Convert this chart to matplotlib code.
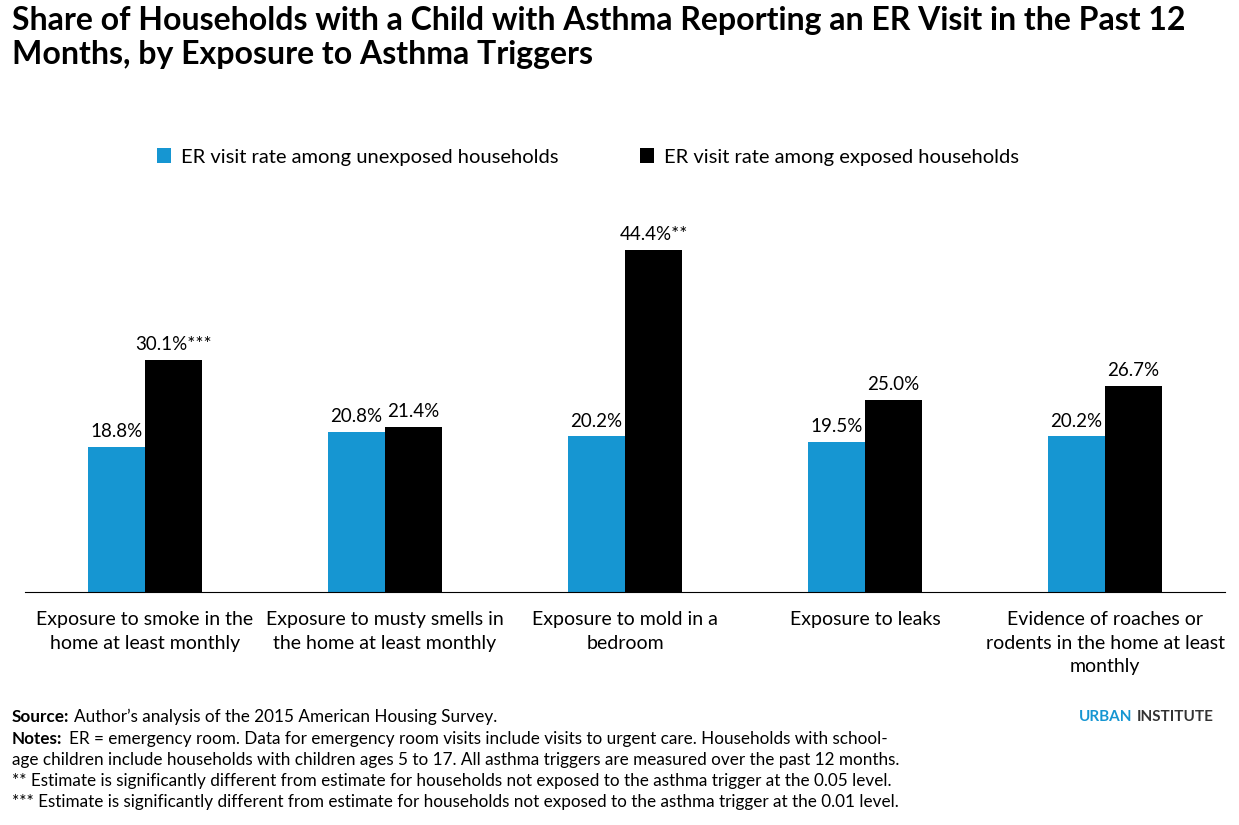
import matplotlib
matplotlib.use("Agg")
import matplotlib.pyplot as plt
import numpy as np

categories = ["Exposure to smoke in the\nhome at least monthly",
              "Exposure to musty smells in\nthe home at least monthly",
              "Exposure to mold in a\nbedroom",
              "Exposure to leaks",
              "Evidence of roaches or\nrodents in the home at least\nmonthly"]
unexposed = [18.8, 20.8, 20.2, 19.5, 20.2]
exposed = [30.1, 21.4, 44.4, 25.0, 26.7]
exposed_marks = ["***", "", "**", "", ""]
series_names = ["ER visit rate among unexposed households", "ER visit rate among exposed households"]

plt.rcParams['font.family'] = ['Lato', 'DejaVu Sans']
fig = plt.figure(figsize=(12.39, 8.25), dpi=100)
ax = fig.add_axes([25/1239, (825-592)/825, 1200/1239, 385/825])
x = np.arange(len(categories))
w = 0.2375
blue = "#1696d2"
b1 = ax.bar(x - w/2, unexposed, w, color=blue, label=series_names[0])
b2 = ax.bar(x + w/2, exposed, w, color="black", label=series_names[1])
for xi, v in zip(x, unexposed):
    ax.text(xi - w/2, v + 0.9, f"{v:.1f}%", ha="center", va="bottom", fontsize=13.5)
for xi, v, m in zip(x, exposed, exposed_marks):
    ax.text(xi + w/2, v + 0.9, f"{v:.1f}%{m}", ha="center", va="bottom", fontsize=13.5)
ax.set_xlim(-0.5, 4.5)
ax.set_ylim(0, 50)
ax.set_yticks([])
ax.set_xticks(x)
ax.set_xticklabels(categories, fontsize=14, linespacing=1.45)
ax.tick_params(axis="x", length=0, pad=14)
for s in ["top", "right", "left"]:
    ax.spines[s].set_visible(False)
ax.spines["bottom"].set_color("black")
ax.spines["bottom"].set_linewidth(0.8)

fig.legend(handles=[b1, b2], loc="center", bbox_to_anchor=(588/1239, 1-157/825), ncol=2,
           frameon=False, fontsize=14.5, handlelength=0.7, handleheight=0.7, columnspacing=4.0, handletextpad=0.5)

fig.text(12/1239, 1-6/825, "Share of Households with a Child with Asthma Reporting an ER Visit in the Past 12\nMonths, by Exposure to Asthma Triggers",
         fontsize=23, fontweight="bold", va="top", ha="left", linespacing=1.2)

fs = 12.3
x0 = 12/1239
t = fig.text(x0, 1-717/825, "Source:", fontsize=fs, fontweight="bold", va="center")
fig.text(x0 + 62/1239, 1-717/825, "Author’s analysis of the 2015 American Housing Survey.", fontsize=fs, va="center")
notes = ["ER = emergency room. Data for emergency room visits include visits to urgent care. Households with school-",
         "age children include households with children ages 5 to 17. All asthma triggers are measured over the past 12 months.",
         "** Estimate is significantly different from estimate for households not exposed to the asthma trigger at the 0.05 level.",
         "*** Estimate is significantly different from estimate for households not exposed to the asthma trigger at the 0.01 level."]
fig.text(x0, 1-739/825, "Notes:", fontsize=fs, fontweight="bold", va="center")
fig.text(x0 + 57/1239, 1-739/825, notes[0], fontsize=fs, va="center")
for i, n in enumerate(notes[1:]):
    fig.text(x0, 1-(760+21*i)/825, n, fontsize=fs, va="center")
fig.text(1132/1239, 1-717/825, "URBAN", fontsize=11, fontweight="bold", color=blue, ha="right", va="center")
fig.text(1137/1239, 1-717/825, "INSTITUTE", fontsize=11, fontweight="bold", color="#333333", ha="left", va="center")
fig.savefig("out.png", dpi=100)
